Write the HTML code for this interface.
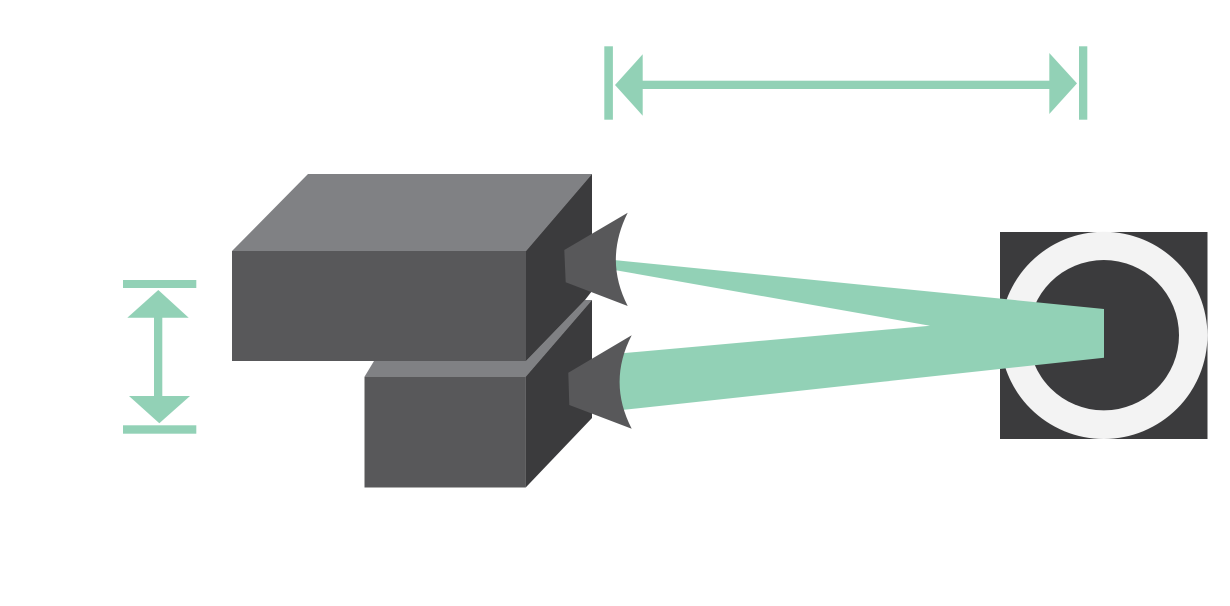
<!DOCTYPE html>
<html>
<head>
<meta charset="utf-8">
<title>Diagram</title>
<style>
html,body{margin:0;padding:0;background:#fff;width:1230px;height:606px;overflow:hidden}
svg{display:block}
</style>
</head>
<body>
<svg xmlns="http://www.w3.org/2000/svg" width="1230" height="606" viewBox="0 0 1230 606">
  <rect width="1230" height="606" fill="#fff"/>

  <!-- Top dimension arrow -->
  <g fill="#92d1b6">
    <rect x="604.3" y="46.3" width="8.6" height="73.4"/>
    <rect x="1079" y="46.3" width="8.3" height="73.4"/>
    <rect x="642" y="80.7" width="408" height="8.3"/>
    <polygon points="615,85 642.7,54.3 642.7,115.7"/>
    <polygon points="1077,83.4 1049.3,53 1049.3,114"/>
  </g>

  <!-- Left dimension arrow -->
  <g fill="#92d1b6">
    <rect x="123" y="280" width="73.3" height="8"/>
    <rect x="123" y="425.3" width="73.3" height="8.4"/>
    <rect x="154" y="317" width="8.3" height="80"/>
    <polygon points="158.3,290 127.3,317.7 188.7,317.7"/>
    <polygon points="159.3,423.3 129,396 190,396"/>
  </g>

  <!-- Lower box -->
  <polygon points="364.5,376.7 374,361 526,361 585,300 592,300 525.7,376.7" fill="#808184"/>
  <rect x="364.5" y="376.7" width="161.2" height="110.8" fill="#58585a"/>
  <polygon points="525.7,376.7 592,300 592,418 525.7,487.5" fill="#3b3b3d"/>

  <!-- Upper box -->
  <polygon points="232,251 308,174 592,174 526,251" fill="#808184"/>
  <rect x="232" y="251" width="294" height="110" fill="#58585a"/>
  <polygon points="526,251 592,174 592,291 585,300 526,361" fill="#3b3b3d"/>

  <!-- Target square and ring -->
  <rect x="1000" y="232" width="207.5" height="207" fill="#3b3b3d"/>
  <circle cx="1103.8" cy="335.4" r="103.6" fill="#f3f3f3"/>
  <circle cx="1103.8" cy="335.2" r="75.2" fill="#3b3b3d"/>

  <!-- Beams -->
  <polygon points="610,259.6 1104,309 1104,357.7 615,410.8 615,353.9 930,325.7 610,269.2" fill="#92d1b6"/>

  <!-- Speakers -->
  <path d="M564.3,250 L627.7,212.7 Q604,260 627.7,306 L565.7,282.3 Z" fill="#58585a"/>
  <path d="M568.3,372.7 L631.7,335.3 Q607.5,382 631.7,428.7 L569.3,405 Z" fill="#58585a"/>
</svg>
</body>
</html>
